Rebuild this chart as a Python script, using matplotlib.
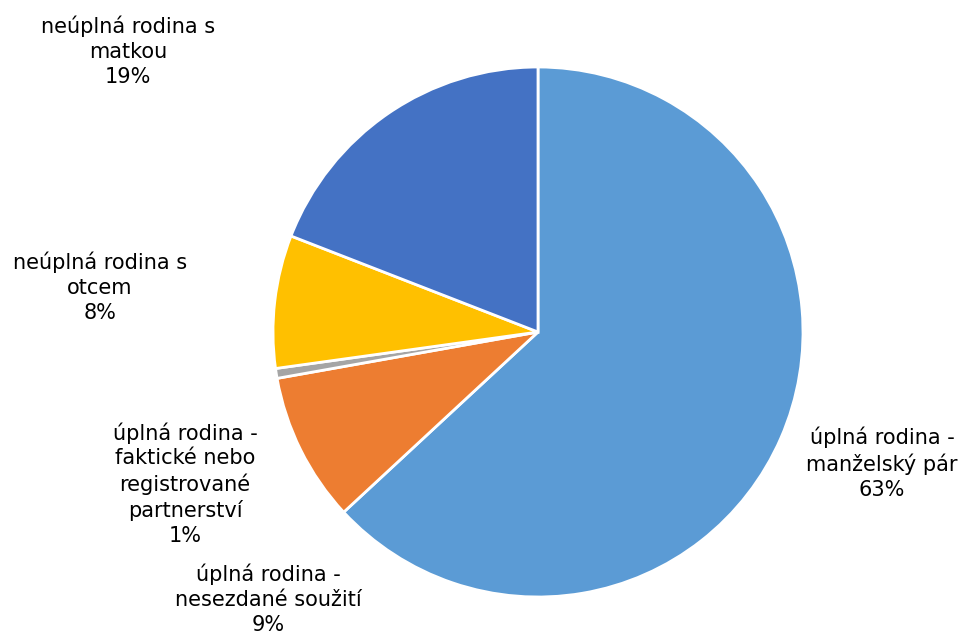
import matplotlib.pyplot as plt

categories = [
    "úplná rodina -\nmanželský pár",
    "úplná rodina -\nnesezdané soužití",
    "úplná rodina -\nfaktické nebo\nregistrované\npartnerství",
    "neúplná rodina s\notcem",
    "neúplná rodina s\nmatkou",
]
shares = [63.1, 9.1, 0.6, 8.1, 19.1]
colors = ["#5B9BD5", "#ED7D31", "#A5A5A5", "#FFC000", "#4472C4"]

# label centres in pixels (x from left, y from top), placed like the Excel chart
label_pos = [(882, 463), (268, 599), (185, 484), (100, 287), (128, 51)]

W, H = 962, 632
fig = plt.figure(figsize=(W / 100, H / 100), dpi=100)
ax = fig.add_axes([273 / W, 35 / H, 530 / W, 530 / H])

ax.pie(
    shares,
    colors=colors,
    startangle=90,
    counterclock=False,
    radius=1,
    wedgeprops=dict(edgecolor="white", linewidth=2),
)
ax.set_xlim(-1, 1)
ax.set_ylim(-1, 1)
ax.set_aspect("equal")
ax.axis("off")

for name, val, (px, py) in zip(categories, shares, label_pos):
    fig.text(px / W, 1 - py / H, f"{name}\n{int(val + 0.5)}%",
             ha="center", va="center", fontsize=15, linespacing=1.3,
             color="black")

fig.savefig("out.png", dpi=100)
